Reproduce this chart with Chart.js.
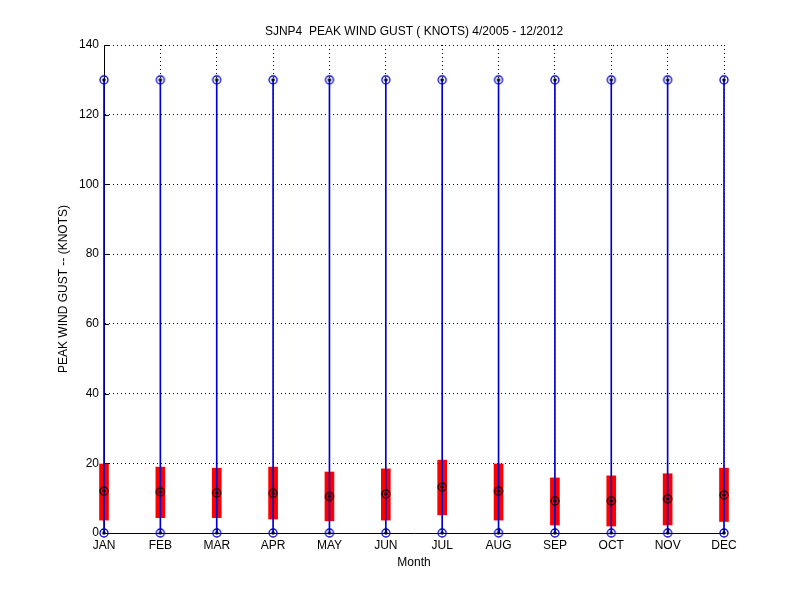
<!DOCTYPE html>
<html>
<head>
<meta charset="utf-8">
<script src="https://cdn.jsdelivr.net/npm/chart.js@4/dist/chart.umd.min.js"></script>
<style>
html,body{margin:0;padding:0;background:#fff;}
canvas{display:block;}
</style>
</head>
<body>
<canvas id="c" width="800" height="600"></canvas>
<script>
// ---- data ----
const months = ['JAN','FEB','MAR','APR','MAY','JUN','JUL','AUG','SEP','OCT','NOV','DEC'];
const minGust = [0,0,0,0,0,0,0,0,0,0,0,0];
const maxGust = [130,130,130,130,130,130,130,130,130,130,130,130];
const q1Gust = [3.7,4.4,4.4,4.0,3.5,3.7,5.2,3.7,2.3,2.0,2.3,3.3];
const q3Gust = [19.8,18.9,18.6,18.9,17.5,18.4,20.9,19.8,15.8,16.4,17.0,18.6];
const medianGust = [12.0,11.8,11.5,11.4,10.5,11.2,13.2,12.0,9.2,9.2,9.8,10.9];
const yTicks = [0,20,40,60,80,100,120,140];
const chartTitle = 'SJNP4  PEAK WIND GUST ( KNOTS) 4/2005 - 12/2012';
const yTitle = 'PEAK WIND GUST -- (KNOTS)';
const xTitle = 'Month';

const FONT = "'Liberation Sans', Arial, Helvetica, sans-serif";

function marker(ring, dot) {
  const c = document.createElement('canvas');
  c.width = 12; c.height = 12;
  const g = c.getContext('2d');
  g.strokeStyle = ring; g.lineWidth = 1.3;
  g.beginPath(); g.arc(6, 6, 4, 0, Math.PI * 2); g.stroke();
  g.fillStyle = dot;
  g.beginPath(); g.arc(6, 6, 1.8, 0, Math.PI * 2); g.fill();
  return c;
}
const blueMarker = marker('#0000d0', '#000030');
const medMarker = marker('#1a0000', '#000020');

const innerTicks = {
  id: 'innerTicks',
  beforeDatasetsDraw(chart) {
    const {ctx, chartArea, scales} = chart;
    ctx.save();
    ctx.strokeStyle = '#000';
    ctx.lineWidth = 1;
    ctx.beginPath();
    scales.y.ticks.forEach(t => {
      const y = Math.round(scales.y.getPixelForValue(t.value)) + 0.5;
      ctx.moveTo(chartArea.left, y); ctx.lineTo(chartArea.left + 5, y);
    });
    scales.x.ticks.forEach((t, i) => {
      const x = Math.round(scales.x.getPixelForTick(i)) + 0.5;
      ctx.moveTo(x, chartArea.bottom); ctx.lineTo(x, chartArea.bottom - 5);
    });
    ctx.stroke();
    ctx.restore();
  }
};

new Chart(document.getElementById('c'), {
  type: 'bar',
  data: {
    labels: months,
    datasets: [
      {
        type: 'bar', label: 'IQR',
        data: months.map((m, i) => [q1Gust[i], q3Gust[i]]),
        backgroundColor: '#ff0000', borderWidth: 0,
        barThickness: 9, grouped: false, order: 4, clip: false
      },
      {
        type: 'bar', label: 'Range',
        data: months.map((m, i) => [minGust[i], maxGust[i]]),
        backgroundColor: '#0000cc', borderWidth: 0,
        barThickness: 1, grouped: false, order: 3, clip: false
      },
      {
        type: 'line', label: 'Median', data: medianGust,
        showLine: false, pointStyle: medMarker, pointRadius: 5,
        order: 2, clip: false
      },
      {
        type: 'line', label: 'Max', data: maxGust,
        showLine: false, pointStyle: blueMarker, pointRadius: 5,
        order: 1, clip: false
      },
      {
        type: 'line', label: 'Min', data: minGust,
        showLine: false, pointStyle: blueMarker, pointRadius: 5,
        order: 0, clip: false
      }
    ]
  },
  options: {
    responsive: false,
    animation: false,
    devicePixelRatio: 1,
    layout: { padding: { left: 0, right: 76, top: 0, bottom: 0 } },
    plugins: {
      legend: { display: false },
      tooltip: { enabled: false },
      title: {
        display: true, text: chartTitle, fullSize: false,
        color: '#000', font: { family: FONT, size: 12, weight: 'normal' },
        padding: { top: 24, bottom: 6.6 }
      }
    },
    scales: {
      x: {
        type: 'category', offset: false,
        grid: { display: true, offset: false, color: '#000', lineWidth: 1, drawTicks: false },
        border: { display: true, color: '#000', width: 1, dash: [1, 3] },
        ticks: { color: '#000', font: { family: FONT, size: 12 }, padding: 5, autoSkip: false, maxRotation: 0 },
        title: { display: true, text: xTitle, color: '#000', font: { family: FONT, size: 12 }, padding: { top: 0, bottom: 30 } },
        afterFit(s) { s.height = 67; }
      },
      y: {
        min: 0, max: 140,
        afterBuildTicks(s) { s.ticks = yTicks.map(v => ({ value: v })); },
        grid: { display: true, color: '#000', lineWidth: 1, drawTicks: false },
        border: { display: true, color: '#000', width: 1, dash: [1, 3] },
        ticks: { color: '#000', font: { family: FONT, size: 12 }, padding: 5 },
        title: { display: true, text: yTitle, color: '#000', font: { family: FONT, size: 12 }, padding: { top: 56, bottom: 0 } },
        afterFit(s) { s.width = 104; }
      }
    }
  },
  plugins: [innerTicks]
});
</script>
</body>
</html>
